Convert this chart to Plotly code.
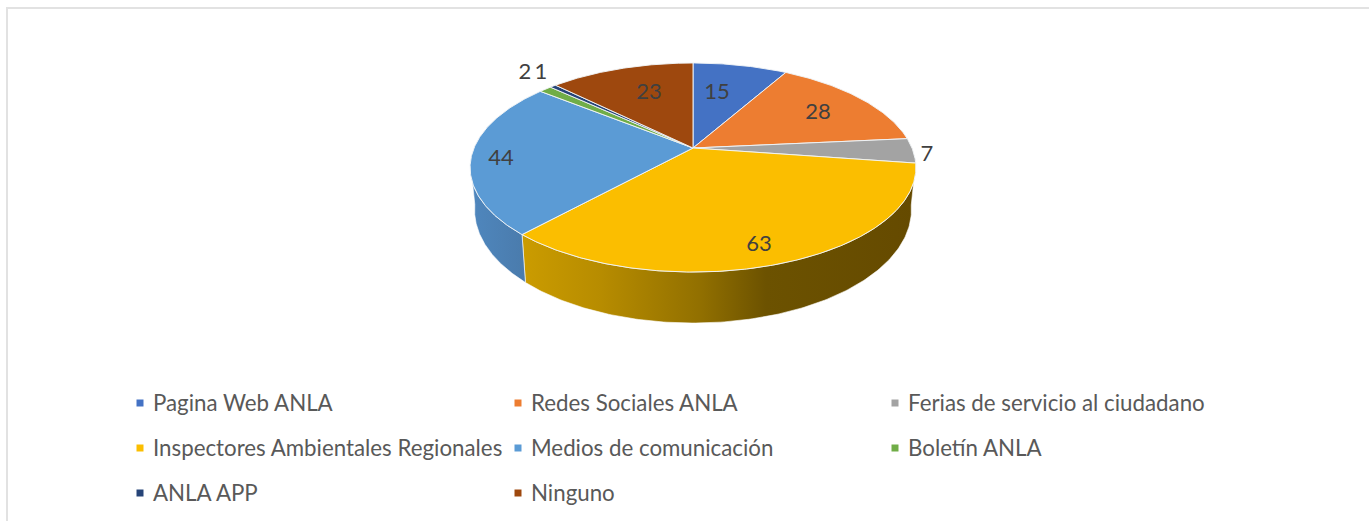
import numpy as np
import plotly.graph_objects as go

# --- data ---
categories = ["Pagina Web ANLA", "Redes Sociales ANLA", "Ferias de servicio al ciudadano",
              "Inspectores Ambientales Regionales", "Medios de comunicación", "Boletín ANLA",
              "ANLA APP", "Ninguno"]
values = [15, 28, 7, 63, 44, 2, 1, 23]

# --- styles and layout ---
colors = ["#4472C4", "#ED7D31", "#A3A3A3", "#FBBE00", "#5B9BD5", "#70AD47", "#264478", "#9E480E"]
label_xy = [(717, 93), (818, 113), (927, 155), (759, 245), (501, 159), (525, 73), (541, 73), (649, 93)]
legend_x = [140, 518, 895]
legend_y = [403, 448, 493]
CX, CY, A, B, K = 693.0, 148.0, 219.0, 100.9, 0.1866   # apex and perspective of the pie top
SX, SY, DY = 0.98, 1.083, 40.7                         # base ring relative to the top ring
FONT = "Lato, Carlito, Calibri, sans-serif"


def rim(theta):
    w = 1 + K * np.cos(theta)
    return CX + A * np.sin(theta) / w, CY - B * np.cos(theta) / w


def base(theta):
    x, y = rim(theta)
    return CX + SX * (x - CX), CY + DY + SY * (y - CY)


edges = np.cumsum([0] + values) / sum(values) * 2 * np.pi
fig = go.Figure()

# side walls (only the two front slices show a wall)
side_styles = {
    3: [[0, "#CB9C00"], [0.2, "#B78C00"], [0.45, "#927000"], [0.62, "#6C5200"], [1, "#654A00"]],
    4: [[0, "#4F87BE"], [1, "#4A7BAC"]],
}
wall_limit = {3: edges[4], 4: np.radians(262)}
for i, scale in side_styles.items():
    t = np.linspace(edges[i], wall_limit[i], 160)
    tx, ty = rim(t)
    bx, by = base(t)
    fig.add_trace(go.Scatter(
        x=np.r_[tx, bx[::-1], tx[0]], y=np.r_[ty, by[::-1], ty[0]],
        mode="lines", fill="toself", line=dict(width=0.8, color="rgba(255,255,255,0.75)"),
        fillgradient=dict(type="horizontal", colorscale=scale),
        hoverinfo="skip", showlegend=False))

# top faces
for i, (name, col) in enumerate(zip(categories, colors)):
    t = np.linspace(edges[i], edges[i + 1], max(int(values[i] * 4), 8))
    x, y = rim(t)
    fig.add_trace(go.Scatter(
        x=np.r_[CX, x, CX], y=np.r_[CY, y, CY], mode="lines", fill="toself",
        fillcolor=col, line=dict(width=1, color="rgba(240,243,246,0.95)"),
        name=name, text=[f"{name}: {values[i]}"] * (len(t) + 2), hoverinfo="text", showlegend=False))

# data labels
for v, (lx, ly) in zip(values, label_xy):
    fig.add_trace(go.Scatter(
        x=[lx], y=[ly], mode="text", text=[str(v)], textposition="middle center",
        textfont=dict(family=FONT, size=22, color="#404040"), hoverinfo="skip", showlegend=False))

# legend: 3 columns, 3 rows
for i, (name, col) in enumerate(zip(categories, colors)):
    lx, ly = legend_x[i % 3], legend_y[i // 3]
    fig.add_trace(go.Scatter(x=[lx], y=[ly], mode="markers",
                             marker=dict(symbol="square", size=7, color=col),
                             hoverinfo="skip", showlegend=False))
    fig.add_trace(go.Scatter(x=[lx + 13], y=[ly + 2], mode="text", text=[name], textposition="middle right",
                             textfont=dict(family=FONT, size=22.3, color="#595959"),
                             hoverinfo="skip", showlegend=False))

frame = dict(color="#E2E2E2", width=2)
fig.update_layout(
    width=1369, height=521, margin=dict(l=0, r=0, t=0, b=0),
    paper_bgcolor="white", plot_bgcolor="white", showlegend=False,
    xaxis=dict(visible=False, range=[0, 1369], fixedrange=True),
    yaxis=dict(visible=False, range=[521, 0], fixedrange=True),
    shapes=[
        dict(type="line", xref="x", yref="y", x0=7, x1=1369, y0=8, y1=8, line=frame, layer="below"),
        dict(type="line", xref="x", yref="y", x0=7, x1=7, y0=7, y1=521, line=frame, layer="below"),
    ],
)
fig.write_html("out.html", config={"displayModeBar": False},
               post_script="document.body.style.margin='0';document.body.style.overflow='hidden';")
